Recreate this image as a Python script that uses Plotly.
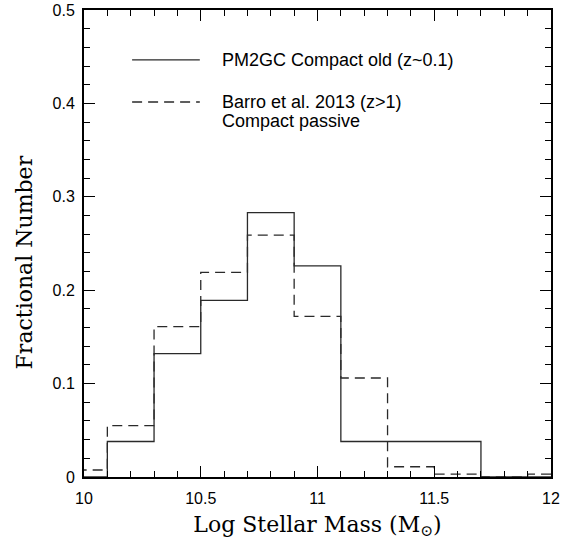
import plotly.graph_objects as go

# bin edges (Log M*) and fractional numbers per bin
bin_edges = [9.9, 10.1, 10.3, 10.5, 10.7, 10.9, 11.1, 11.3, 11.5, 11.7, 11.9, 12.1]
pm2gc_frac = [0.0, 0.038, 0.132, 0.189, 0.283, 0.226, 0.038, 0.038, 0.038, 0.0, 0.0]
barro_frac = [0.0075, 0.055, 0.161, 0.219, 0.259, 0.172, 0.106, 0.011, 0.003, 0.0, 0.003]

series_names = ['PM2GC Compact old (z~0.1)', 'Barro et al. 2013 (z>1)<br>Compact passive']
x_ticks = [10, 10.5, 11, 11.5, 12]
x_ticklabels = ['10', '10.5', '11', '11.5', '12']
y_ticks = [0, 0.1, 0.2, 0.3, 0.4, 0.5]
y_ticklabels = ['0', '0.1', '0.2', '0.3', '0.4', '0.5']

LINE_COL = '#2a2a2a'
TICK_FONT = dict(family='Liberation Sans, Arial', size=16, color='black')
TITLE_FONT = dict(family='DejaVu Serif', size=22, color='black')
LEG_FONT = dict(family='Liberation Sans, Arial', size=18, color='black')

fig = go.Figure()

# step histograms
fig.add_trace(go.Scatter(
    x=bin_edges, y=pm2gc_frac + [pm2gc_frac[-1]], mode='lines',
    line=dict(shape='hv', color=LINE_COL, width=1.3),
    name=series_names[0], showlegend=False, hoverinfo='skip'))
fig.add_trace(go.Scatter(
    x=bin_edges, y=barro_frac + [barro_frac[-1]], mode='lines',
    line=dict(shape='hv', color=LINE_COL, width=1.3, dash='10px,6px'),
    name=series_names[1], showlegend=False, hoverinfo='skip'))

# hand-made legend (line samples + labels, one annotation per text line)
legend_rows = [(0.893, 'solid'), (0.803, '10px,6px')]
line_step = 0.04
for (yy, dash), label in zip(legend_rows, series_names):
    fig.add_shape(type='line', xref='x domain', yref='y domain',
                  x0=0.103, x1=0.248, y0=yy, y1=yy,
                  line=dict(color=LINE_COL, width=1.3, dash=dash))
    for k, part in enumerate(label.split('<br>')):
        fig.add_annotation(xref='x domain', yref='y domain', x=0.291,
                           y=yy - k * line_step, text=part, showarrow=False,
                           xanchor='left', yanchor='middle', align='left',
                           font=LEG_FONT)

# y title sits a little below the axis centre in the original
fig.add_annotation(xref='paper', yref='paper', x=-0.128, y=0.46,
                   text='Fractional Number', textangle=-90, showarrow=False,
                   xanchor='center', yanchor='middle', font=TITLE_FONT)

axis_common = dict(
    showgrid=False, zeroline=False, showline=True, linecolor='black', linewidth=2,
    mirror='allticks', ticks='inside', ticklen=11, tickwidth=1, tickcolor='black',
    tickfont=TICK_FONT, automargin=False,
)

fig.update_xaxes(
    range=[10, 12], tickvals=x_ticks, ticktext=x_ticklabels, ticklabelstandoff=6,
    minor=dict(dtick=0.1, ticks='inside', ticklen=6, tickcolor='black', showgrid=False),
    title=dict(text='Log Stellar Mass (M<sub>⊙</sub>)', font=TITLE_FONT, standoff=10),
    **axis_common)
fig.update_yaxes(
    range=[0, 0.5], tickvals=y_ticks, ticktext=y_ticklabels, ticklabelstandoff=4,
    minor=dict(dtick=0.02, ticks='inside', ticklen=6, tickcolor='black', showgrid=False),
    **axis_common)

fig.update_layout(
    width=566, height=546,
    margin=dict(l=84, r=15, t=10, b=69),
    plot_bgcolor='white', paper_bgcolor='white',
)

fig.write_html('out.html', config={'displayModeBar': False},
               post_script="document.body.style.margin='0';")
